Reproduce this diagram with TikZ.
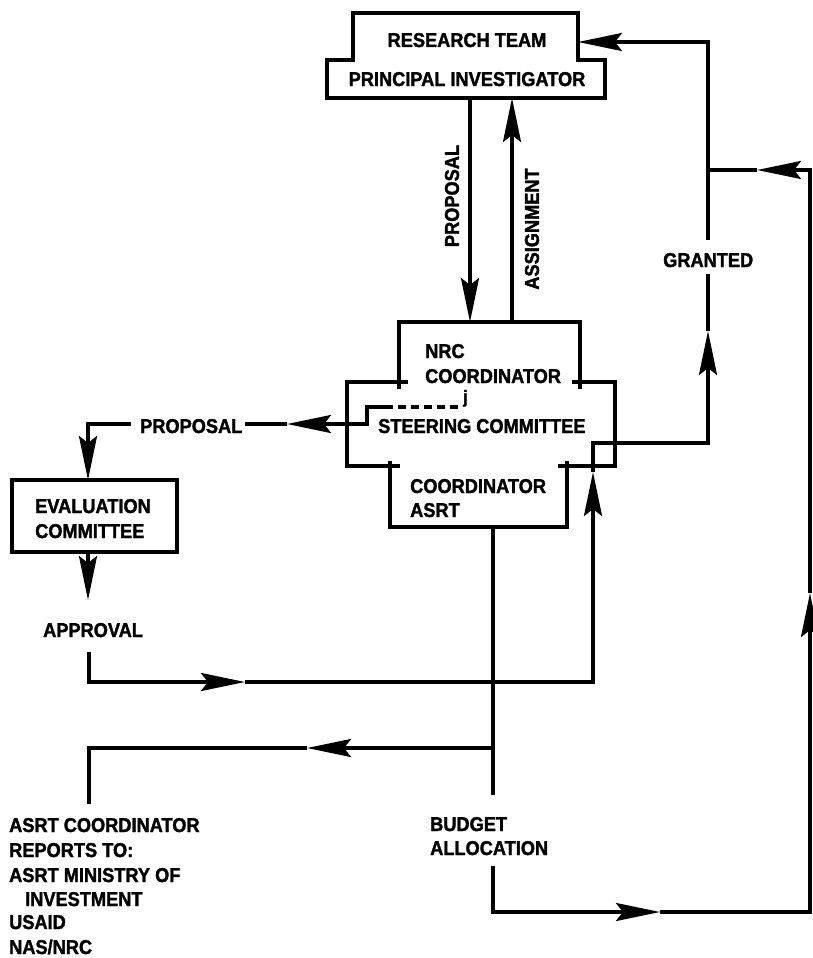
\documentclass[tikz,border=0pt]{standalone}
\usepackage{fontspec}
\newfontfamily\dfont[FakeStretch=0.91,BoldFeatures={FakeBold=1.6}]{Liberation Sans}
\usetikzlibrary{arrows.meta}
\begin{document}
\begin{tikzpicture}[x=1pt,y=-1pt,
  ln/.style={line width=3.4pt},
  arr/.style={ln,-{Stealth[length=44pt,width=18pt,inset=7pt]}},
  lbl/.style={font=\dfont\bfseries\fontsize{20}{24}\selectfont, inner sep=0pt, anchor=base west},
  lblc/.style={lbl, anchor=base},
  lblr/.style={font=\dfont\bfseries\fontsize{20}{24}\selectfont, inner sep=0pt, rotate=90},
]
\fill[white] (0,0) rectangle (813,958);
\path[use as bounding box] (0,0) rectangle (813,958);

% ---------- top box: research team ----------
\draw[ln] (353,13) -- (578,13) -- (578,60) -- (605,60) -- (605,98) -- (327,98) -- (327,60) -- (353,60) -- cycle;
\node[lblc] (rt) at (467,47) {RESEARCH TEAM};
\node[lblc] (pi) at (467,86) {PRINCIPAL INVESTIGATOR};
\coordinate (topS1) at (470,98);
\coordinate (topS2) at (512,98);
\coordinate (topE) at (578,42);

% ---------- middle box ----------
\draw[ln] (399,389) -- (399,322) -- (580,322) -- (580,389);
\draw[ln] (408,382) -- (347,382) -- (347,466) -- (400,466);
\draw[ln] (572,382) -- (615,382) -- (615,466) -- (558,466);
\draw[ln] (390,461) -- (390,527) -- (567,527) -- (567,461);
\node[lbl] (nrc) at (425,358) {NRC};
\node[lbl] (nrc2) at (425,383) {COORDINATOR};
\node[lbl] (sc) at (378,433) {STEERING COMMITTEE};
\node[lbl] (ca) at (410,493) {COORDINATOR};
\node[lbl] (ca2) at (410,517) {ASRT};
\node[lbl, font=\dfont\bfseries\fontsize{18}{20}\selectfont] (jj) at (463,403) {j};
\coordinate (midN1) at (470,322);
\coordinate (midN2) at (512,322);
\coordinate (midW) at (347,424);
\coordinate (midS) at (493,527);

% proposal / assignment
\draw[arr] (topS1) -- (midN1);
\draw[arr] (midN2) -- (topS2);
\node[lblr] (lprop) at (452,196) {PROPOSAL};
\node[lblr] (lassign) at (532,229) {ASSIGNMENT};

% steering committee internal link + dashed
\coordinate (d0) at (385,407);
\coordinate (d1) at (460,407);
\draw[ln] (d0) -- (367,407) -- (367,424) -- (midW);
\draw[ln, dash pattern=on 8pt off 5pt] (d0) -- (d1);

% proposal to evaluation committee
\coordinate (pm) at (287,424);
\draw[arr] (midW) -- (pm);
\node[lbl] (lprop2) at (140,433) {PROPOSAL};
\coordinate (pl) at (245,424);
\draw[ln] (pm) -- (pl);
\coordinate (pl2) at (131,424);
\coordinate (evN) at (88,480);
\draw[arr] (pl2) -| (evN);

% evaluation committee
\draw[ln] (12,480) rectangle (177,552);
\node[lbl] (ev1) at (35,513) {EVALUATION};
\node[lbl] (ev2) at (35,538) {COMMITTEE};
\coordinate (evS) at (88,552);
\coordinate (apN) at (88,600);
\draw[arr] (evS) -- (apN);
\node[lbl] (appr) at (43,637) {APPROVAL};

% approval path to granted
\coordinate (ap1) at (89,652);
\coordinate (apm) at (245,682);
\coordinate (ap3) at (593,682);
\coordinate (ap4) at (593,472);
\coordinate (ap5) at (593,443);
\coordinate (gr1) at (708,443);
\coordinate (grm) at (708,331);
\draw[arr] (ap1) |- (apm);
\draw[arr] (apm) -- (ap3) -- (ap4);
\draw[arr] (ap4) -- (ap5) -- (gr1) -- (grm);
\node[lbl] (granted) at (663,267) {GRANTED};
\coordinate (gr2) at (708,274);
\coordinate (gr3) at (708,240);
\coordinate (gr4) at (708,42);
\draw[ln] (grm) -- (gr2);
\draw[arr] (gr3) -- (gr4) -- (topE);

% budget allocation
\coordinate (c2) at (493,795);
\draw[ln] (midS) -- (c2);
\coordinate (c3) at (493,748);
\coordinate (cm) at (307,748);
\coordinate (c4) at (89,804);
\draw[arr] (c3) -- (cm);
\draw[ln] (cm) -| (c4);
\node[lbl] (bud1) at (430,831) {BUDGET};
\node[lbl] (bud2) at (430,855) {ALLOCATION};

% reports to
\node[lbl] (r1) at (9,832) {ASRT COORDINATOR};
\node[lbl] (r2) at (9,857) {REPORTS TO:};
\node[lbl] (r3) at (9,882) {ASRT MINISTRY OF};
\node[lbl] (r4) at (25,906) {INVESTMENT};
\node[lbl] (r5) at (9,929) {USAID};
\node[lbl] (r6) at (9,954) {NAS/NRC};

% right loop
\coordinate (b1) at (493,866);
\coordinate (bm) at (660,912);
\coordinate (b3) at (810,912);
\coordinate (bu) at (810,593);
\coordinate (b4) at (810,170);
\coordinate (bl) at (757,170);
\coordinate (b5) at (708,170);
\draw[arr] (b1) |- (bm);
\draw[arr] (bm) -- (b3) -- (bu);
\draw[arr] (bu) -- (b4) -- (bl);
\draw[ln] (bl) -- (b5);
\end{tikzpicture}
\end{document}
